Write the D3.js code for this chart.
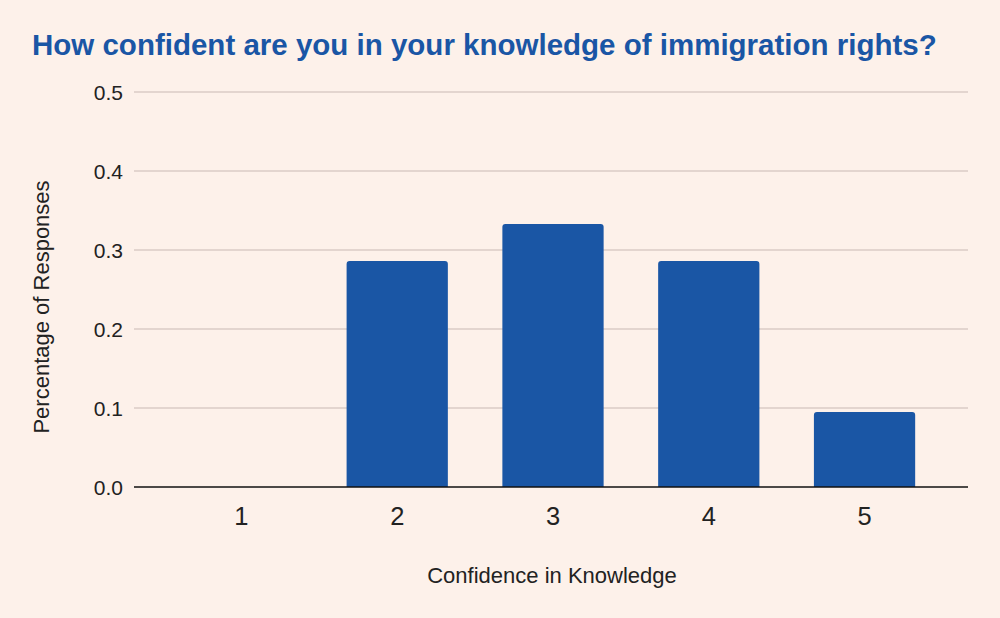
<!DOCTYPE html>
<html>
<head>
<meta charset="utf-8">
<script src="https://cdn.jsdelivr.net/npm/d3@7"></script>
<style>
  html, body { margin: 0; padding: 0; background: #fdf1ea; }
  svg { display: block; }
</style>
</head>
<body>
<svg id="chart" width="1000" height="618"></svg>
<script>
const categories = ["1", "2", "3", "4", "5"];
const values = [0, 0.286, 0.333, 0.286, 0.095];
const yTicks = [0, 0.1, 0.2, 0.3, 0.4, 0.5];
const titleText = "How confident are you in your knowledge of immigration rights?";
const xTitle = "Confidence in Knowledge";
const yTitle = "Percentage of Responses";

const svg = d3.select("#chart");
const W = 1000, H = 618;
const m = { left: 134, right: 32, top: 92, bottom: 131 };
const x0 = m.left, x1 = W - m.right, y0 = H - m.bottom, y1 = m.top;
const FONT = "Liberation Sans, Arial, sans-serif";

svg.append("rect").attr("width", W).attr("height", H).attr("fill", "#fdf1ea");

const x = d3.scaleBand().domain(categories).range([x0 + 2, x1 + 2]).paddingInner(0.35).paddingOuter(0.352);
const y = d3.scaleLinear().domain([0, 0.5]).range([y0, y1]);

// gridlines
svg.append("g").selectAll("line").data(yTicks.filter(d => d > 0)).join("line")
  .attr("x1", x0).attr("x2", x1)
  .attr("y1", d => y(d)).attr("y2", d => y(d))
  .attr("stroke", "#c9bab3").attr("stroke-width", 1.2);

// y axis labels
const yAxis = d3.axisLeft(y).tickValues(yTicks).tickFormat(d3.format(".1f")).tickSize(0).tickPadding(11);
const ga = svg.append("g").attr("transform", `translate(${x0},0)`).call(yAxis);
ga.select(".domain").remove();
ga.selectAll("text").attr("font-family", FONT)
  .attr("font-size", 21).attr("fill", "#222").attr("dy", "0.35em");

// bars with slightly rounded top corners
const r = 3;
svg.append("g").selectAll("path").data(categories.map((c, i) => ({ c, v: values[i] }))).join("path")
  .attr("fill", "#1a56a5")
  .attr("d", d => {
    const bx = x(d.c), bw = x.bandwidth(), by = y(d.v), bb = y(0);
    if (bb - by < 0.5) return "";
    const rr = Math.min(r, (bb - by));
    return `M${bx},${bb} L${bx},${by + rr} Q${bx},${by} ${bx + rr},${by} L${bx + bw - rr},${by} Q${bx + bw},${by} ${bx + bw},${by + rr} L${bx + bw},${bb} Z`;
  });

// baseline
svg.append("line").attr("x1", x0).attr("x2", x1).attr("y1", y(0)).attr("y2", y(0))
  .attr("stroke", "#111").attr("stroke-width", 1.6);

// x axis labels
const xAxis = d3.axisBottom(x).tickSize(0).tickPadding(0);
const gx = svg.append("g").attr("transform", `translate(0,${y0})`).call(xAxis);
gx.select(".domain").remove();
gx.selectAll("text").attr("font-family", FONT)
  .attr("font-size", 25.5).attr("fill", "#222").attr("y", 38).attr("dy", null);

// titles
svg.append("text").attr("x", 32).attr("y", 54.5)
  .attr("font-family", FONT).attr("font-size", 29.5)
  .attr("font-weight", "bold").attr("fill", "#1a56a5").text(titleText);

svg.append("text").attr("x", 552).attr("y", 583).attr("text-anchor", "middle")
  .attr("font-family", FONT).attr("font-size", 22)
  .attr("fill", "#222").text(xTitle);

svg.append("text").attr("transform", `translate(49,307) rotate(-90)`)
  .attr("text-anchor", "middle")
  .attr("font-family", FONT).attr("font-size", 22)
  .attr("fill", "#222").text(yTitle);
</script>
</body>
</html>
